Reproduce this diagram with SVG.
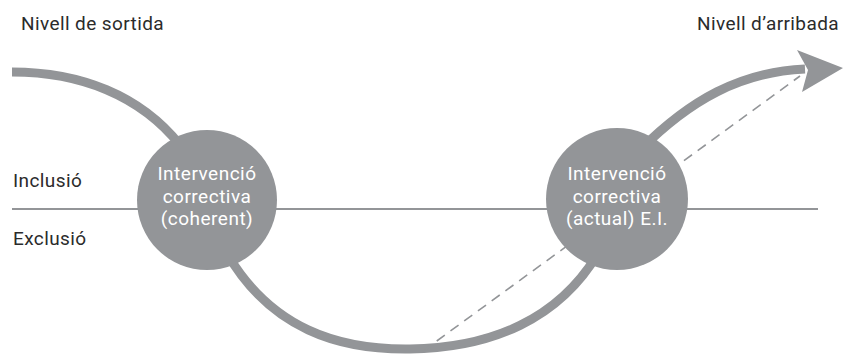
<svg xmlns="http://www.w3.org/2000/svg" width="844" height="357" viewBox="0 0 844 357">
<style>
.lbl{font-family:Roboto,"Noto Sans",sans-serif;font-size:19px;letter-spacing:0.4px;fill:#2b2b2b}
.ctx{font-family:Roboto,"Noto Sans",sans-serif;font-size:19px;letter-spacing:0.5px;fill:#ffffff;text-anchor:middle}
.arc{fill:none;stroke:#939598;stroke-width:9}
.node{fill:#939598}
</style>
<rect width="844" height="357" fill="#ffffff"/>
<g id="connectors">
<line x1="12" y1="209" x2="818" y2="209" stroke="#939598" stroke-width="2"/>
<path class="arc" d="M12 72 C80 72 140 95 180 145"/>
<path class="arc" d="M225 250 C270 330 340 350 410 349 C490 348 560 320 600 250"/>
<path class="arc" d="M640 150 C690 100 740 72 805 69"/>
<polygon points="797,50 843,68 802,92 808,70" fill="#939598"/>
<line x1="423" y1="351" x2="800" y2="76" stroke="#939598" stroke-width="1.6" stroke-dasharray="10,7"/>
</g>
<g id="node-coherent">
<circle class="node" cx="207" cy="200" r="70"/>
<text class="ctx" x="207" y="180">Intervenció</text>
<text class="ctx" x="207" y="203">correctiva</text>
<text class="ctx" x="207" y="225">(coherent)</text>
</g>
<g id="node-actual">
<circle class="node" cx="617" cy="199" r="71"/>
<text class="ctx" x="617" y="180">Intervenció</text>
<text class="ctx" x="617" y="203">correctiva</text>
<text class="ctx" x="617" y="225">(actual) E.I.</text>
</g>
<g id="labels">
<text class="lbl" x="21" y="30">Nivell de sortida</text>
<text class="lbl" x="839" y="30" text-anchor="end">Nivell d’arribada</text>
<text class="lbl" x="13" y="187">Inclusió</text>
<text class="lbl" x="13" y="245">Exclusió</text>
</g>
</svg>
